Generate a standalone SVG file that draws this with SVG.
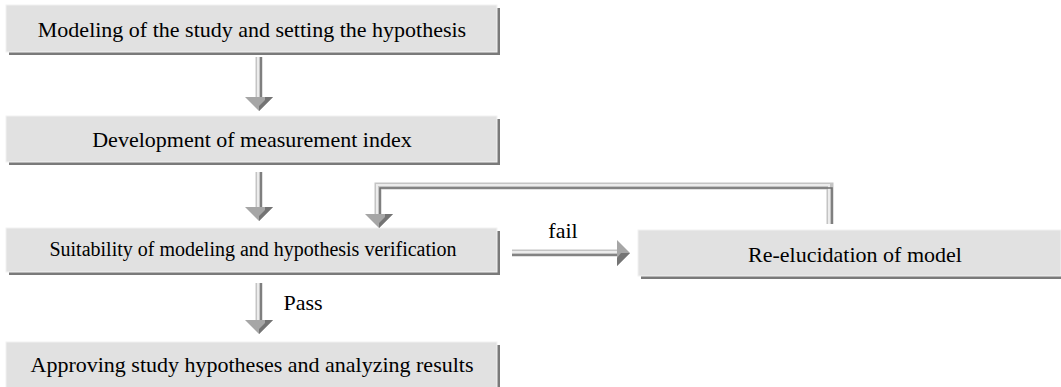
<svg xmlns="http://www.w3.org/2000/svg" width="1061" height="387" viewBox="0 0 1061 387">
<style>
.shadow{fill:#7a7a7a}
.box{fill:#e1e1e1;stroke:#f2f2f2;stroke-width:1}
.lbl{font-family:"Liberation Serif","Times New Roman",serif;font-size:22px;fill:#000;text-anchor:middle}
.sm{font-size:20px}
.shaft{fill:none;stroke:#c4c4c4;stroke-width:7;stroke-linejoin:miter}
.shaftin{fill:none;stroke:#ececec;stroke-width:2;stroke-linejoin:miter}
.shaftdk{fill:none;stroke:#6e6e6e;stroke-width:1.6;stroke-linejoin:miter}
.headl{fill:#a6a6a6}
.headr{fill:#747474}
</style>
<defs>
<g id="hdown">
<polygon class="headl" points="-14,0 14,0 0,14"/>
<polygon class="headr" points="0,14 14,0 6,0 6,3 0,9"/>
</g>
<g id="hright">
<polygon class="headl" points="0,-13 0,13 13,0"/>
<polygon class="headr" points="13,0 0,13 0,5 4,0"/>
</g>
</defs>
<rect width="1061" height="387" fill="#fff"/>
<g id="node-modeling">
<rect class="shadow" x="9" y="8" width="491" height="47"/>
<rect class="box" x="6" y="5" width="491" height="47"/>
<text class="lbl" x="252" y="37">Modeling of the study and setting the hypothesis</text>
</g>
<g id="node-development">
<rect class="shadow" x="9" y="119" width="491" height="46"/>
<rect class="box" x="6" y="116" width="491" height="46"/>
<text class="lbl" x="252" y="147">Development of measurement index</text>
</g>
<g id="node-suitability">
<rect class="shadow" x="9" y="231" width="491" height="44"/>
<rect class="box" x="6" y="228" width="491" height="44"/>
<text class="lbl sm" x="253" y="256">Suitability of modeling and hypothesis verification</text>
</g>
<g id="node-reelucidation">
<rect class="shadow" x="641" y="233" width="422" height="46"/>
<rect class="box" x="638" y="230" width="423" height="46"/>
<text class="lbl" x="855" y="262">Re-elucidation of model</text>
</g>
<g id="node-approving">
<rect class="shadow" x="9" y="345" width="491" height="45"/>
<rect class="box" x="6" y="342" width="491" height="48"/>
<text class="lbl" x="252" y="372">Approving study hypotheses and analyzing results</text>
</g>
<g id="connectors">
<g id="arrow-1">
<path class="shaft" d="M259,57 V98"/>
<path class="shaftin" d="M258,57 V98"/>
<path class="shaftdk" d="M261,57 V98"/>
<use href="#hdown" x="259" y="97"/>
</g>
<g id="arrow-2">
<path class="shaft" d="M259,172 V208"/>
<path class="shaftin" d="M258,172 V208"/>
<path class="shaftdk" d="M261,172 V208"/>
<use href="#hdown" x="259" y="207"/>
</g>
<g id="arrow-pass">
<path class="shaft" d="M259,283 V321"/>
<path class="shaftin" d="M258,283 V321"/>
<path class="shaftdk" d="M261,283 V321"/>
<use href="#hdown" x="259" y="320"/>
<text class="lbl" x="303" y="310">Pass</text>
</g>
<g id="arrow-fail">
<path class="shaft" d="M512,253 H618"/>
<path class="shaftin" d="M512,252 H618"/>
<path class="shaftdk" d="M512,255 H618"/>
<use href="#hright" x="617" y="253"/>
<text class="lbl" x="563" y="238">fail</text>
</g>
<g id="arrow-feedback">
<path class="shaft" d="M830,224 V186 H378 V215"/>
<path class="shaftin" d="M829,224 V185 H377 V215"/>
<path class="shaftdk" d="M832,224 V188 H380 V215"/>
<use href="#hdown" x="379" y="214"/>
</g>
</g>
</svg>
